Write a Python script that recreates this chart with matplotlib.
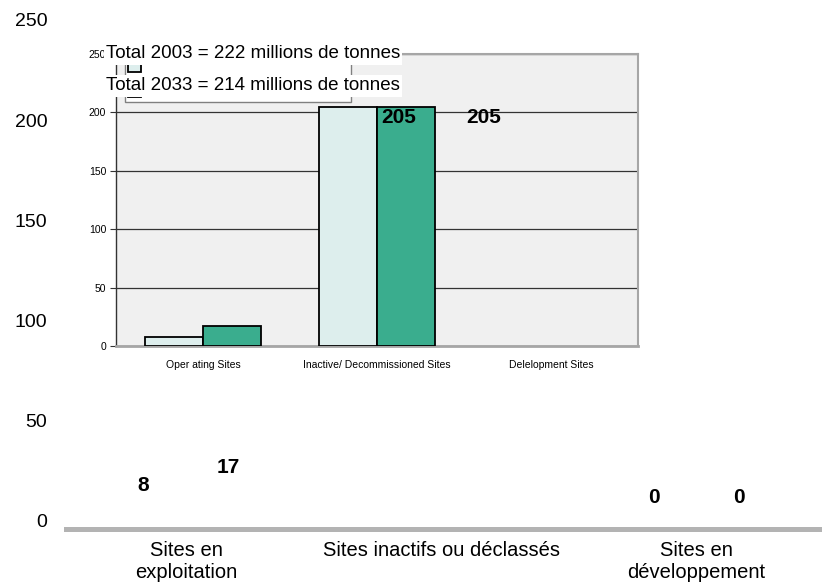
import matplotlib.pyplot as plt
import numpy as np

plt.rcParams['font.family'] = ['Liberation Sans', 'DejaVu Sans']

# embedded (inner) chart
inner_categories = ["Oper ating Sites", "Inactive/ Decommissioned Sites", "Delelopment Sites"]
inner_2003 = [8, 205, 0]
inner_2033 = [17, 205, 0]
inner_ticks = [0, 50, 100, 150, 200, 250]

# outer chart
outer_categories = ["Sites en\nexploitation", "Sites inactifs ou déclassés", "Sites en\ndéveloppement"]
outer_2003 = [8, 205, 0]
outer_2033 = [17, 205, 0]
outer_ticks = [0, 50, 100, 150, 200, 250]
label_dy = [19, -7, 23]  # label centre, px above bar top

totals = ["Total 2003 = 222 millions de tonnes", "Total 2033 = 214 millions de tonnes"]

W, H = 822, 586
LIGHT = '#ddeeed'
GREEN = '#3aad8e'
BORDER = '#a6a6a6'
DARK = '#333333'


def box(l, t, r, b):
    # pixel box -> figure fraction rect
    return [l / W, 1 - b / H, (r - l) / W, (b - t) / H]


fig = plt.figure(figsize=(W / 100, H / 100), dpi=100)

# --- inner chart ---
ax_in = fig.add_axes(box(116, 54, 638, 346), zorder=1)
ax_in.set_facecolor('#f0f0f0')
x = np.arange(len(inner_categories))
w = 1 / 3
lw1 = [1.3 if v else 0 for v in inner_2003]
lw2 = [1.3 if v else 0 for v in inner_2033]
b1 = ax_in.bar(x - w / 2, inner_2003, w, color=LIGHT, edgecolor='black', linewidth=lw1, zorder=3)
b2 = ax_in.bar(x + w / 2, inner_2033, w, color=GREEN, edgecolor='black', linewidth=lw2, zorder=3)
ax_in.set_xlim(-0.5, 2.5)
ax_in.set_ylim(0, 250)
ax_in.set_yticks(inner_ticks)
ax_in.set_xticks(x)
ax_in.set_xticklabels(inner_categories)
ax_in.yaxis.grid(True, color=DARK, linewidth=0.9)
ax_in.set_axisbelow(True)
for s in ['top', 'right']:
    ax_in.spines[s].set_color(BORDER)
    ax_in.spines[s].set_linewidth(1.5)
ax_in.spines['bottom'].set_color(BORDER)
ax_in.spines['bottom'].set_linewidth(2)
ax_in.spines['left'].set_color(DARK)
ax_in.spines['left'].set_linewidth(1)
ax_in.tick_params(axis='y', length=4, width=0.8, color=DARK, labelsize=7.5, pad=3)
ax_in.tick_params(axis='x', length=0, labelsize=7.5, pad=10)

leg = ax_in.legend([b1, b2], ['', ''], loc='lower left',
                   bbox_to_anchor=(125 / W, 1 - 102 / H, 226 / W, 0),
                   bbox_transform=fig.transFigure, mode='expand', borderaxespad=0,
                   fancybox=False, framealpha=1, fontsize=9, handlelength=1.0,
                   handleheight=1.0, labelspacing=1.0, borderpad=0.25)
leg.get_frame().set_edgecolor('#808080')
leg.get_frame().set_linewidth(1)

# --- outer chart ---
ax_out = fig.add_axes(box(58.5, 20, 823.5, 529), zorder=2)
ax_out.patch.set_visible(False)
ob1 = ax_out.bar(x - w / 2, outer_2003, w, fill=False, linewidth=0)
ob2 = ax_out.bar(x + w / 2, outer_2033, w, fill=False, linewidth=0)
ax_out.set_xlim(-0.5, 2.5)
ax_out.set_ylim(-4, 250)
ax_out.set_yticks(outer_ticks)
ax_out.set_xticks(x)
ax_out.set_xticklabels(outer_categories)
for s in ['top', 'right', 'left']:
    ax_out.spines[s].set_visible(False)
ax_out.spines['bottom'].set_color('#b3b3b3')
ax_out.spines['bottom'].set_linewidth(3.6)
ax_out.spines['bottom'].set_bounds(-0.47, 2.5)
ax_out.tick_params(axis='y', length=0, labelsize=14, pad=8)
ax_out.tick_params(axis='x', length=0, labelsize=14.5, pad=9)

for bars in (ob1, ob2):
    for i, r in enumerate(bars):
        ax_out.annotate(f"{r.get_height():.0f}",
                        (r.get_x() + r.get_width() / 2, r.get_height()),
                        xytext=(0, label_dy[i] * 0.72), textcoords='offset points',
                        ha='center', va='center', fontsize=15, fontweight='bold')

# white text boxes laid over the inner chart
for txt, yc in zip(totals, [54, 86]):
    fig.text(106 / W, 1 - yc / H, txt, fontsize=13.5, ha='left', va='center',
             bbox=dict(facecolor='white', edgecolor='none', pad=1.5), zorder=10)

fig.savefig('out.png', dpi=100)
